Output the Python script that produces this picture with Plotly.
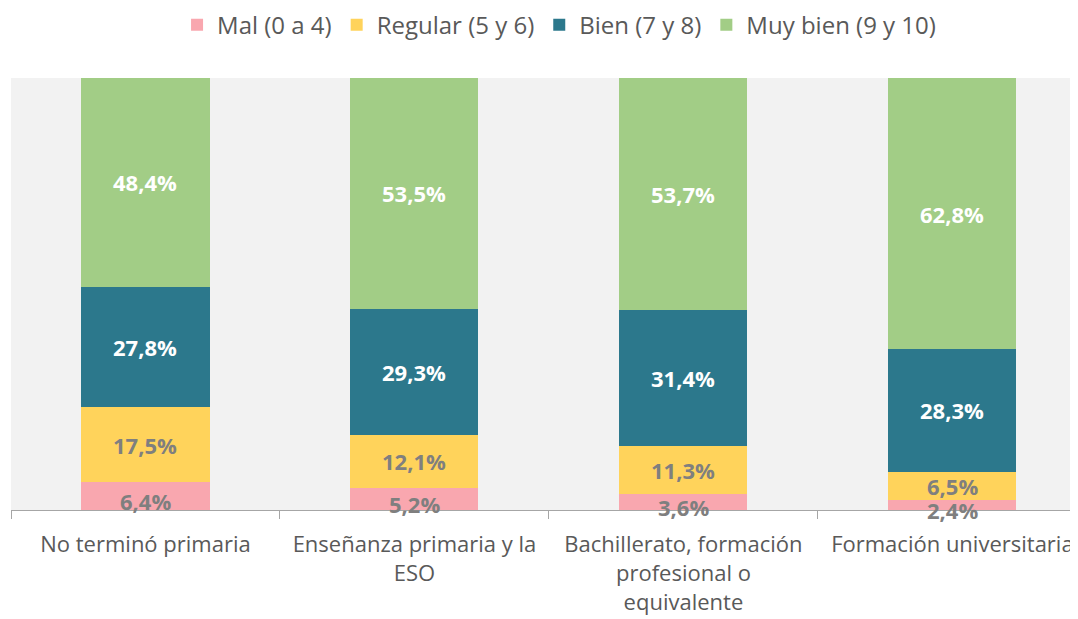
import plotly.graph_objects as go

categories = ["No terminó primaria", "Enseñanza primaria y la<br>ESO",
              "Bachillerato, formación<br>profesional o<br>equivalente", "Formación universitaria"]
series_names = ["Mal (0 a 4)", "Regular (5 y 6)", "Bien (7 y 8)", "Muy bien (9 y 10)"]
mal = [6.4, 5.2, 3.6, 2.4]
regular = [17.5, 12.1, 11.3, 6.5]
bien = [27.8, 29.3, 31.4, 28.3]
muy_bien = [48.4, 53.5, 53.7, 62.8]

colors = ["#F9A7AF", "#FFD35B", "#2C788C", "#A2CD86"]
label_colors = ["#7F7F7F", "#7F7F7F", "#FFFFFF", "#FFFFFF"]
label_shift = [-5, 0, 0, 0]

all_series = [mal, regular, bien, muy_bien]
FONT = "Open Sans"

fig = go.Figure()
for name, vals, col in zip(series_names, all_series, colors):
    fig.add_trace(go.Bar(x=categories, y=vals, name=name, marker=dict(color=col, line=dict(width=0)),
                         width=0.476, hoverinfo="skip"))

annotations = []
base = [0.0] * len(categories)
for si, vals in enumerate(all_series):
    for ci, v in enumerate(vals):
        annotations.append(dict(x=categories[ci], y=base[ci] + v / 2, xref="x", yref="y",
                                text="<b>" + f"{v:.1f}".replace(".", ",") + "%</b>",
                                showarrow=False, yshift=label_shift[si],
                                font=dict(family=FONT, size=22, color=label_colors[si])))
        base[ci] += v

fig.update_layout(
    barmode="stack",
    width=1070, height=611,
    margin=dict(l=3, r=0, t=70, b=109, autoexpand=False),
    paper_bgcolor="white",
    plot_bgcolor="#F2F2F2",
    font=dict(family=FONT, size=22, color="#595959"),
    legend=dict(orientation="h", x=0.515, xanchor="center", xref="container",
                y=0.972, yanchor="middle", yref="container",
                font=dict(family=FONT, size=24, color="#595959"), traceorder="normal",
                itemwidth=30),
    annotations=annotations,
    showlegend=True,
)
fig.update_xaxes(range=[-0.5, 3.467], showline=True, linecolor="#A6A6A6", linewidth=1,
                 ticks="outside", tickson="boundaries", ticklen=8, tickcolor="#A6A6A6",
                 ticklabelstandoff=15, automargin=False,
                 showgrid=False, tickfont=dict(family=FONT, size=22, color="#595959"))
fig.update_yaxes(range=[0, 100], visible=False, showgrid=False)

fig.write_html("out.html")
